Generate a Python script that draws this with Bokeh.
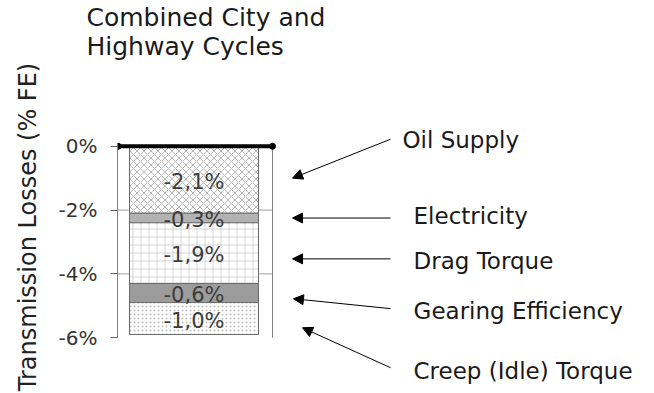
import numpy as np
from bokeh.plotting import figure
from bokeh.models import Range1d, FixedTicker, Arrow, NormalHead
from bokeh.core.properties import value
from bokeh.embed import file_html
from bokeh.resources import INLINE

# ---- data ----
components = ["Oil Supply", "Electricity", "Drag Torque", "Gearing Efficiency", "Creep (Idle) Torque"]
losses = [-2.1, -0.3, -1.9, -0.6, -1.0]
loss_labels = ["-2,1%", "-0,3%", "-1,9%", "-0,6%", "-1,0%"]
y_ticks = [0, -2, -4, -6]
y_tick_labels = ["0%", "-2%", "-4%", "-6%"]
grid_levels = [-2, -4]

# annotation layout (label text anchor and arrow geometry, in data units)
label_x = [2.616, 2.702, 2.702, 2.702, 2.702]
label_y = [0.19, -2.19, -3.59, -5.16, -7.03]
arrow_start_x = [2.523, 2.523, 2.523, 2.523, 2.523]
arrow_start_y = [0.22, -2.25, -3.53, -5.09, -6.94]
arrow_end_x = [1.764, 1.764, 1.764, 1.771, 1.841]
arrow_end_y = [-1.0, -2.25, -3.53, -4.78, -5.69]

# ---- styles ----
fills = ["white", "#b3b3b3", "white", "#9c9c9c", "white"]
hatches = ["diagonal_cross", None, "cross", None, "dot"]
hatch_colors = ["#9a9a9a", None, "#c4c4c4", None, "#c0c0c0"]
hatch_scales = [7, 8, 8, 8, 4]

FONT = "DejaVu Sans"
X0, X1 = 0.407, 4.4457
XR = 1.6085

p = figure(width=638, height=393, output_backend="svg", toolbar_location=None,
           x_axis_type=None, x_range=Range1d(X0, X1), y_range=Range1d(-7.75, 2.6875),
           min_border_left=117, min_border_right=0, min_border_top=59, min_border_bottom=0)
p.outline_line_color = None
p.ygrid.visible = False
p.background_fill_color = "white"

# gridlines inside plot area
for g in grid_levels:
    p.line(x=[X0, XR], y=[g, g], line_color="#a0a0a0", line_width=1)

# right border of plot area
p.line(x=[XR, XR], y=[y_ticks[0], y_ticks[-1]], line_color="#808080", line_width=1)

# stacked bar
tops = np.concatenate([[0.0], np.cumsum(losses)[:-1]])
bottoms = np.cumsum(losses)
for i in range(len(losses)):
    kw = dict(x=[1.0], width=1.0, top=[tops[i]], bottom=[bottoms[i]],
              fill_color=fills[i], line_color="#6a6a6a", line_width=1)
    if hatches[i]:
        kw.update(hatch_pattern=hatches[i], hatch_color=hatch_colors[i],
                  hatch_scale=hatch_scales[i], hatch_weight=0.7)
    p.vbar(**kw)

centers = (tops + bottoms) / 2
p.text(x=[1.0] * len(losses), y=list(centers), text=loss_labels,
       text_font=value(FONT), text_font_size="21px", text_color="#3c3c3c",
       text_align="center", text_baseline="middle", y_offset=2)

# total line at 0%
p.line(x=[X0 + 0.005, XR], y=[0, 0], line_color="black", line_width=4)
p.scatter(x=[X0 + 0.005, XR], y=[0, 0], size=6, color="black")

# arrows and component labels
for i in range(len(components)):
    p.add_layout(Arrow(end=NormalHead(size=10, fill_color="black", line_color="black"),
                       x_start=arrow_start_x[i], y_start=arrow_start_y[i],
                       x_end=arrow_end_x[i], y_end=arrow_end_y[i],
                       line_color="black", line_width=1))
p.text(x=label_x, y=label_y, text=components, text_font=value(FONT),
       text_font_size="23px", text_color="#1a1a1a", text_align="left",
       text_baseline="alphabetic")

# y axis
ax = p.yaxis[0]
ax.ticker = FixedTicker(ticks=y_ticks)
ax.major_label_overrides = {t: l for t, l in zip(y_ticks, y_tick_labels)}
ax.bounds = (y_ticks[-1], y_ticks[0])
ax.axis_line_color = "#808080"
ax.major_tick_line_color = "#606060"
ax.major_tick_out = 7
ax.major_tick_in = 0
ax.minor_tick_line_color = None
ax.major_label_standoff = 13
ax.major_label_text_font = FONT
ax.major_label_text_font_size = "20px"
ax.major_label_text_color = "#333333"
ax.axis_label = "Transmission Losses (% FE)"
ax.axis_label_text_font = FONT
ax.axis_label_text_font_size = "24px"
ax.axis_label_text_font_style = "normal"
ax.axis_label_text_color = "#222222"
ax.axis_label_standoff = 14

# title
p.title.text = "Combined City and\nHighway Cycles"
p.title.text_font = FONT
p.title.text_font_size = "25px"
p.title.text_font_style = "normal"
p.title.text_color = "#1a1a1a"
p.title.align = "left"
p.title.offset = -31
p.title.standoff = 0

open("out.html", "w").write(file_html(p, INLINE))
